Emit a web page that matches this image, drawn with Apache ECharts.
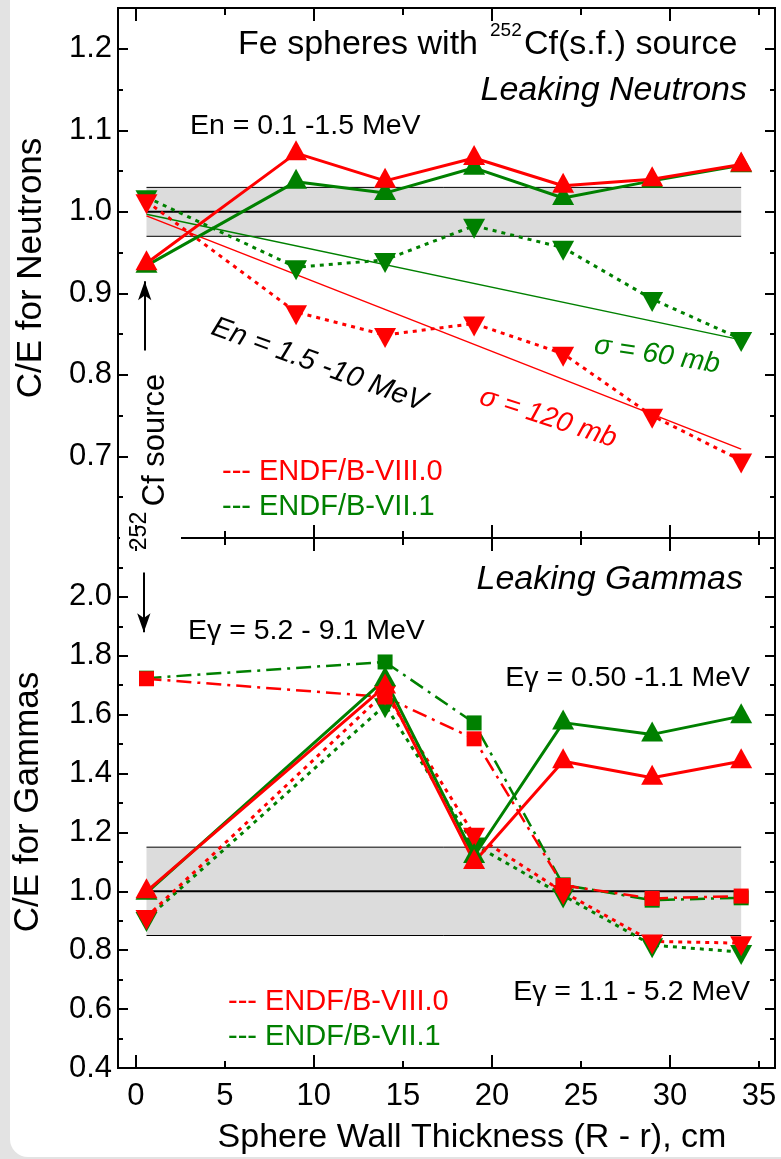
<!DOCTYPE html>
<html>
<head>
<meta charset="utf-8">
<script src="https://cdn.jsdelivr.net/npm/echarts@6/dist/echarts.min.js"></script>
<style>
  html, body { margin: 0; padding: 0; background: #e3e3e3; }
  #card { position: absolute; left: 10px; top: 0; width: 771px; height: 1157px; background: #fff; border-bottom-left-radius: 18px; }
  #chart { position: absolute; left: 0; top: 0; width: 781px; height: 1159px; }
</style>
</head>
<body>
<div id="card"></div>
<div id="chart"></div>
<script>
// ---- Axis settings ----
const X_MIN = -1, X_MAX = 35.9;
const xLabelValues = [0, 5, 10, 15, 20, 25, 30, 35];
const xMajorTicks = [0, 10, 20, 30];
const xMinorTicks = [5, 15, 25, 35];

const nYRange = [0.6, 1.25];
const nYLabels = [0.7, 0.8, 0.9, 1.0, 1.1, 1.2];
const nYMinor = [0.65, 0.75, 0.85, 0.95, 1.05, 1.15];

const gYRange = [0.4, 2.2];
const gYLabels = [0.4, 0.6, 0.8, 1.0, 1.2, 1.4, 1.6, 1.8, 2.0];
const gYMinor = [0.5, 0.7, 0.9, 1.1, 1.3, 1.5, 1.7, 1.9, 2.1];

// ---- Leaking neutrons: C/E vs wall thickness ----
const nThick = [0.6, 9, 14, 19, 24, 29, 34];
const nLowB80 = [0.937, 1.072, 1.038, 1.066, 1.032, 1.040, 1.058];   // En = 0.1-1.5 MeV, ENDF/B-VIII.0
const nLowB71 = [0.934, 1.037, 1.023, 1.054, 1.017, 1.038, 1.057];   // En = 0.1-1.5 MeV, ENDF/B-VII.1
const nHighB80 = [1.013, 0.877, 0.849, 0.863, 0.826, 0.750, 0.695];  // En = 1.5-10 MeV, ENDF/B-VIII.0
const nHighB71 = [1.018, 0.932, 0.941, 0.983, 0.956, 0.893, 0.844];  // En = 1.5-10 MeV, ENDF/B-VII.1
const fitThick = [0.6, 34];
const fitSigma60 = [0.997, 0.843];
const fitSigma120 = [0.995, 0.709];
const nBand = [0.97, 1.0, 1.03];

// ---- Leaking gammas: C/E vs wall thickness ----
const gThick = [0.6, 14, 19, 24, 29, 34];
const gLowB80 = [1.000, 1.696, 1.100, 1.442, 1.386, 1.442];    // Eγ = 0.50-1.1 MeV
const gLowB71 = [0.995, 1.720, 1.120, 1.573, 1.533, 1.595];
const gMidB80 = [0.913, 1.675, 1.192, 0.998, 0.830, 0.824];    // Eγ = 1.1-5.2 MeV
const gMidB71 = [0.906, 1.632, 1.159, 0.986, 0.817, 0.794];
const gHighB80 = [1.722, 1.660, 1.518, 1.020, 0.976, 0.984];   // Eγ = 5.2-9.1 MeV
const gHighB71 = [1.724, 1.779, 1.572, 1.022, 0.970, 0.978];
const gBand = [0.85, 1.0, 1.15];
const bandThick = [0.6, 34];

// Source position arrows (x, tail y, head y)
const nArrow = [0.5, 0.83, 0.915];
const gArrow = [0.45, 2.083, 1.88];

const FONT = "'Liberation Sans', Arial, Helvetica, sans-serif";
const RED = '#ff0000', GREEN = '#008000', BLACK = '#000';
const TICK_FONT = 31;

function xAx(grid, pos, ticks, len, labels) {
  return {
    type: 'value', gridIndex: grid, position: pos, min: X_MIN, max: X_MAX,
    axisLine: { show: true, onZero: false, lineStyle: { color: BLACK, width: 2 } },
    axisTick: { show: true, inside: true, length: len, customValues: ticks, lineStyle: { color: BLACK, width: 2 } },
    axisLabel: labels ? { show: true, customValues: labels, fontSize: TICK_FONT, color: BLACK, fontFamily: FONT, margin: 13 } : { show: false },
    splitLine: { show: false }, minorTick: { show: false }
  };
}
function yAx(grid, pos, range, ticks, len, labels) {
  return {
    type: 'value', gridIndex: grid, position: pos, min: range[0], max: range[1],
    axisLine: { show: true, onZero: false, lineStyle: { color: BLACK, width: 2 } },
    axisTick: { show: true, inside: true, length: len, customValues: ticks, lineStyle: { color: BLACK, width: 2 } },
    axisLabel: labels ? { show: true, customValues: labels, fontSize: TICK_FONT, color: BLACK, fontFamily: FONT, margin: 6,
                          formatter: v => Number(v).toFixed(1) } : { show: false },
    splitLine: { show: false }, minorTick: { show: false }
  };
}

const UP = { symbol: 'triangle', size: [22, 20], offset: [0, -3] };
const DOWN = { symbol: 'triangle', size: [22, 20], rotate: 180, offset: [0, 3] };
const SQ = { symbol: 'rect', size: 15, offset: [0, 0] };
const DOT = [4, 5];
const DASHDOT = [15, 6, 3, 6];

function curve(panel, xs, ys, color, width, dash, sym, extra) {
  const ax = panel === 0 ? 0 : 4;
  const s = {
    type: 'line', xAxisIndex: ax, yAxisIndex: ax,
    data: xs.map((x, i) => [x, ys[i]]),
    symbol: sym ? sym.symbol : 'none',
    symbolSize: sym ? sym.size : 0,
    symbolRotate: sym && sym.rotate ? sym.rotate : 0,
    symbolOffset: sym ? sym.offset : [0, 0],
    showSymbol: !!sym,
    itemStyle: { color: color },
    lineStyle: { color: color, width: width, type: dash || 'solid', cap: 'butt' },
    silent: true, clip: false, animation: false
  };
  return Object.assign(s, extra || {});
}

function band(panel, b) {
  return [
    curve(panel, bandThick, [b[1], b[1]], BLACK, 2, 'solid', null, {
      markArea: { silent: true, itemStyle: { color: '#dcdcdc' },
        data: [[{ coord: [bandThick[0], b[2]] }, { coord: [bandThick[1], b[0]] }]] }
    }),
    curve(panel, bandThick, [b[0], b[0]], BLACK, 1, 'solid'),
    curve(panel, bandThick, [b[2], b[2]], BLACK, 1, 'solid')
  ];
}

function arrow(a) {
  return {
    silent: true, symbol: ['none', 'arrow'], symbolSize: [10, 19],
    lineStyle: { color: BLACK, width: 2, type: 'solid' }, itemStyle: { color: BLACK },
    label: { show: false }, animation: false,
    data: [[{ coord: [a[0], a[1]] }, { coord: [a[0], a[2]] }]]
  };
}

const series = [].concat(
  band(0, nBand),
  [
    curve(0, fitThick, fitSigma60, GREEN, 1.5, 'solid'),
    curve(0, fitThick, fitSigma120, RED, 1.5, 'solid', null, { markLine: arrow(nArrow) }),
    curve(0, nThick, nHighB71, GREEN, 3, DOT, DOWN),
    curve(0, nThick, nHighB80, RED, 3, DOT, DOWN),
    curve(0, nThick, nLowB71, GREEN, 3, 'solid', UP),
    curve(0, nThick, nLowB80, RED, 3, 'solid', UP)
  ],
  band(1, gBand),
  [
    curve(1, gThick, gMidB71, GREEN, 3, DOT, DOWN, { markLine: arrow(gArrow) }),
    curve(1, gThick, gMidB80, RED, 3, DOT, DOWN),
    curve(1, gThick, gHighB71, GREEN, 2.5, DASHDOT, SQ),
    curve(1, gThick, gHighB80, RED, 2.5, DASHDOT, SQ),
    curve(1, gThick, gLowB71, GREEN, 3, 'solid', UP),
    curve(1, gThick, gLowB80, RED, 3, 'solid', UP)
  ]
);

function txt(x, y, text, opt) {
  opt = opt || {};
  return {
    type: 'text', x: x, y: y, rotation: opt.rot || 0, z: 101, zlevel: 0, silent: true,
    style: {
      text: text, fill: opt.color || BLACK, fontSize: opt.size || 28, fontFamily: FONT,
      fontStyle: opt.italic ? 'italic' : 'normal',
      align: opt.align || 'left', verticalAlign: 'middle'
    }
  };
}
const deg = Math.PI / 180;

const graphics = [
  // gap in the shared panel border behind the source label
  { type: 'rect', z: 100, silent: true, shape: { x: 120, y: 530, width: 61, height: 16 }, style: { fill: '#fff' } },
  // axis titles
  txt(31, 268, 'C/E for Neutrons', { size: 35, align: 'center', rot: 90 * deg }),
  txt(28, 802, 'C/E for Gammas', { size: 35, align: 'center', rot: 90 * deg }),
  txt(472, 1138, 'Sphere Wall Thickness (R - r), cm', { size: 34, align: 'center' }),
  // neutron panel annotations
  txt(478, 45, 'Fe spheres with', { size: 34, align: 'right' }),
  txt(490, 31, '252', { size: 19 }),
  txt(524, 45, 'Cf(s.f.) source', { size: 34 }),
  txt(747, 91, 'Leaking Neutrons', { size: 34, italic: true, align: 'right' }),
  txt(190, 126, 'En = 0.1 -1.5 MeV', { size: 28.5 }),
  txt(319, 365, 'En = 1.5 -10 MeV', { size: 29, italic: true, align: 'center', rot: -20 * deg }),
  txt(548, 418, 'σ = 120 mb', { size: 28, color: RED, italic: true, align: 'center', rot: -18 * deg }),
  txt(657, 355, 'σ = 60 mb', { size: 28, color: GREEN, italic: true, align: 'center', rot: -9 * deg }),
  txt(222, 472, '--- ENDF/B-VIII.0', { size: 29, color: RED }),
  txt(222, 507, '--- ENDF/B-VII.1', { size: 29, color: GREEN }),
  txt(155, 440, 'Cf source', { size: 31, align: 'center', rot: 90 * deg }),
  txt(140, 531, '252', { size: 23, align: 'center', rot: 90 * deg }),
  // gamma panel annotations
  txt(743, 580, 'Leaking Gammas', { size: 34, italic: true, align: 'right' }),
  txt(188, 631, 'Eγ = 5.2 - 9.1 MeV', { size: 28.5 }),
  txt(750, 678, 'Eγ = 0.50 -1.1 MeV', { size: 28.5, align: 'right' }),
  txt(750, 992, 'Eγ = 1.1 - 5.2 MeV', { size: 28.5, align: 'right' }),
  txt(228, 1002, '--- ENDF/B-VIII.0', { size: 29, color: RED }),
  txt(228, 1037, '--- ENDF/B-VII.1', { size: 29, color: GREEN })
];

const chart = echarts.init(document.getElementById('chart'), null, { renderer: 'canvas' });
chart.setOption({
  animation: false,
  backgroundColor: 'transparent',
  textStyle: { fontFamily: FONT },
  grid: [
    { left: 118, right: 6, top: 8, height: 530, containLabel: false },
    { left: 118, right: 6, top: 538, height: 530, containLabel: false }
  ],
  xAxis: [
    xAx(0, 'bottom', xMajorTicks, 13, null),
    xAx(0, 'bottom', xMinorTicks, 7, null),
    xAx(0, 'top', xMajorTicks, 13, null),
    xAx(0, 'top', xMinorTicks, 7, null),
    xAx(1, 'bottom', xMajorTicks, 13, xLabelValues),
    xAx(1, 'bottom', xMinorTicks, 7, null),
    xAx(1, 'top', xMajorTicks, 13, null),
    xAx(1, 'top', xMinorTicks, 7, null)
  ],
  yAxis: [
    yAx(0, 'left', nYRange, nYLabels, 10, nYLabels),
    yAx(0, 'left', nYRange, nYMinor, 5, null),
    yAx(0, 'right', nYRange, nYLabels, 10, null),
    yAx(0, 'right', nYRange, nYMinor, 5, null),
    yAx(1, 'left', gYRange, gYLabels, 10, gYLabels),
    yAx(1, 'left', gYRange, gYMinor, 5, null),
    yAx(1, 'right', gYRange, gYLabels, 10, null),
    yAx(1, 'right', gYRange, gYMinor, 5, null)
  ],
  series: series,
  graphic: graphics
});
</script>
</body>
</html>
